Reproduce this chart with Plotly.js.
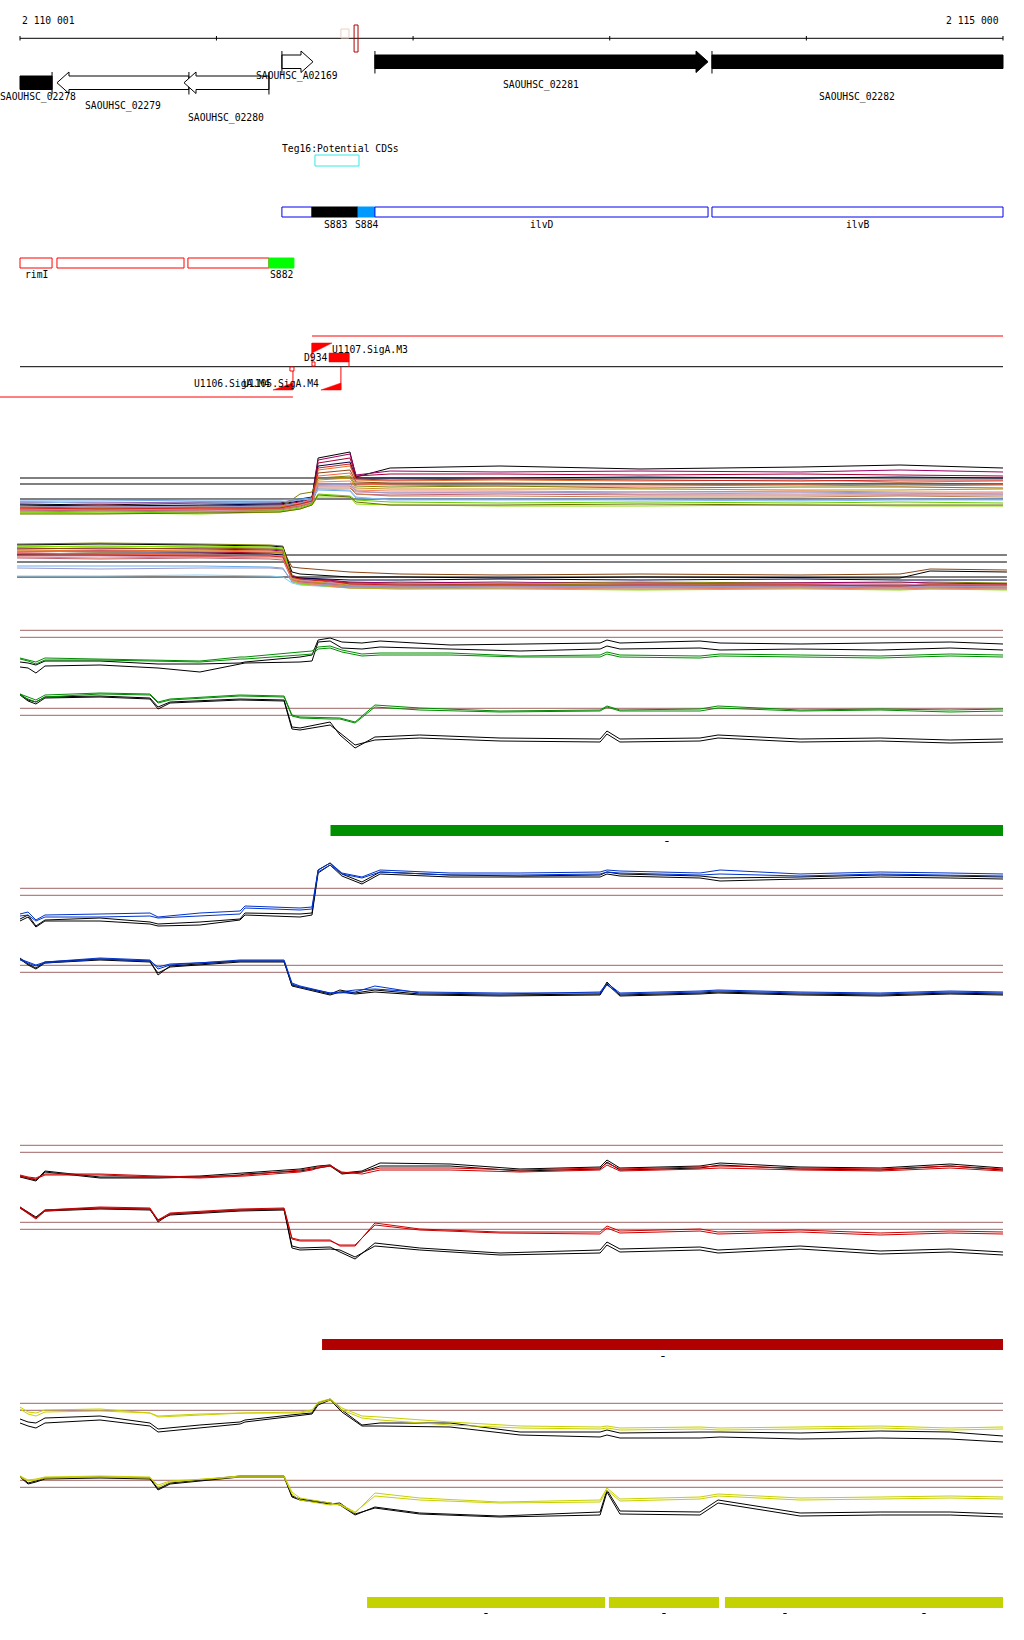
<!DOCTYPE html>
<html><head><meta charset="utf-8">
<script src="https://cdn.plot.ly/plotly-3.0.1.min.js"></script>
<style>html,body{margin:0;padding:0;background:#fff}#chart{width:1024px;height:1640px}</style>
</head><body><div id="chart"></div>
<script>
// ---------------- DATA ----------------
const rulerTicks = [2110001,2111000,2112000,2113000,2114000,2115000];
const rulerLabels = ['2 110 001','2 115 000'];

const geneNames = ['SAOUHSC_02278','SAOUHSC_02279','SAOUHSC_02280','SAOUHSC_A02169','SAOUHSC_02281','SAOUHSC_02282'];
const geneStart = [2110001,2110189,2110835,2111333,2111806,2113520];
const geneEnd   = [2110164,2110860,2111267,2111491,2113500,2115000];
const geneStrand = ['-','-','-','+','+','+'];
const geneFilled = [true,false,false,false,true,true];

const topMarkStart = [2111633,2111700];
const topMarkEnd   = [2111674,2111720];

const tegLabel = 'Teg16:Potential CDSs';
const tegStart = 2111501, tegEnd = 2111725;

const cdsNames = ['','S883','S884','ilvD','ilvB'];
const cdsStart = [2111333,2111486,2111720,2111806,2113520];
const cdsEnd   = [2111486,2111720,2111806,2113500,2115000];
const cdsFill  = ['#ffffff','#000000','#0099ff','#ffffff','#ffffff'];

const rnaNames = ['rimI','','','S882'];
const rnaStart = [2110001,2110189,2110855,2111267];
const rnaEnd   = [2110164,2110835,2111267,2111394];
const rnaFill  = ['#ffffff','#ffffff','#ffffff','#00ff00'];

// promoters / terminators
const plusLineStart = 2111486, plusLineEnd = 2115000;
const minusLineStart = 2109899, minusLineEnd = 2111389;
const promoPlusPos = [2111486];
const promoMinusPos = [2111389,2111633];
const siteLabels = ['U1107.SigA.M3','D934','U1106.SigA.M4','U1105.SigA.M4'];
const siteLabelPos = [2111783,2111506,2111079,2111326];

// multi-sample tracks
const trackAPos = [2110001,2110408,2110916,2111323,2111425,2111486,2111517,2111679,2111710,2111883,2112442,2113154,2113968,2114476,2115000];
const trackAColors = ['#000000','#990066','#aa0033','#000044','#e8702a','#8b4513','#ff6040','#808000','#c89010','#f08060','#d090b0','#c06070','#c08050','#66aaee','#88bbee','#66cc00','#88dd00','#6b6b00','#9999cc','#cc2222'];
const trackAValues = [
 [16,15,17,17,21,23,62,68,43,52,54,51,53,55,52],
 [18,17,18,18,20,22,60,66,45,49,48,49,48,50,48],
 [14,15,14,15,18,21,57,62,44,46,46,45,46,45,44],
 [15,14,15,16,19,22,54,58,42,42,42,43,42,43,42],
 [12,13,12,13,17,20,50,54,40,39,40,39,40,38,39],
 [13,12,13,14,16,20,47,50,38,37,37,36,36,37,36],
 [11,12,11,12,15,19,44,47,36,35,34,34,35,34,35],
 [10,11,10,12,26,28,42,44,34,33,34,32,33,33,32],
 [14,12,13,13,16,19,40,42,32,31,31,31,30,30,31],
 [11,10,11,11,15,18,38,39,30,29,29,28,29,28,28],
 [9,10,9,10,14,18,36,36,28,27,28,26,27,26,27],
 [10,9,10,11,14,17,34,34,26,25,26,25,25,25,25],
 [8,9,8,10,13,17,32,32,26,24,24,23,23,24,23],
 [19,19,20,20,21,22,30,29,22,21,21,21,20,21,21],
 [18,17,17,18,20,21,31,30,23,20,20,20,19,20,20],
 [8,7,8,9,12,16,26,24,20,18,17,18,17,18,17],
 [7,7,6,8,11,15,23,23,16,15,14,14,15,14,14],
 [6,6,7,8,11,15,25,23,18,15,15,16,15,15,15],
 [13,14,13,14,17,20,35,36,29,27,27,28,28,27,26],
 [12,11,12,12,16,19,52,56,41,40,41,40,39,40,40]
];
const trackARefs = [42,36,21];

const trackBPos = [2109986,2110408,2110916,2111272,2111338,2111384,2111425,2111578,2111679,2111933,2112442,2113154,2113968,2114476,2114629,2115020];
const trackBColors = ['#808000','#000000','#66cc00','#990066','#e8702a','#aa0033','#000044','#8b4513','#ff6040','#c89010','#d090b0','#c06070','#66aaee','#9999cc','#88ccee','#88dd00','#f08060','#cc2222'];
const trackBValues = [
 [56,57,56,55,54,25,22,20,17,18,17,18,17,17,18,17],
 [55,56,55,54,53,28,26,24,23,23,22,23,22,22,29,28],
 [53,54,53,52,51,22,20,17,16,15,16,15,16,15,16,15],
 [51,52,51,50,49,24,22,20,18,17,18,16,17,18,17,16],
 [50,49,50,49,48,21,19,16,14,14,15,14,13,14,14,13],
 [48,49,48,47,47,23,21,18,17,16,16,17,16,15,16,16],
 [46,47,47,46,45,23,22,21,20,20,21,20,21,20,20,20],
 [52,51,52,51,50,33,32,30,28,26,25,26,25,26,31,30],
 [47,46,45,44,44,20,18,15,13,12,13,12,13,12,12,12],
 [49,48,49,48,47,22,19,17,15,14,15,14,15,14,15,14],
 [44,44,43,45,44,21,20,18,16,16,17,16,16,15,16,15],
 [42,41,42,41,40,20,18,16,14,13,14,13,14,13,13,12],
 [34,34,34,33,32,18,16,14,13,12,12,13,12,12,12,12],
 [32,31,32,32,31,19,17,15,14,13,14,13,14,13,14,13],
 [24,24,25,24,23,17,15,13,12,11,12,11,12,11,11,11],
 [54,53,54,53,52,19,16,14,12,11,11,10,11,10,11,10],
 [43,42,43,42,42,20,17,14,12,12,12,11,12,11,12,11],
 [45,45,44,44,43,23,21,19,16,15,15,15,15,14,15,15]
];
const trackBRefs = [45,38,23];

// paired condition tracks (two replicates black + two replicates coloured)
const upperPos = [2110001,2110042,2110082,2110128,2110408,2110662,2110703,2110916,2111120,2111145,2111425,2111486,2111517,2111578,2111638,2111740,2111832,2112188,2112544,2112951,2112986,2113052,2113459,2113561,2113968,2114375,2114731,2115000];
const lowerPos = [2110001,2110042,2110082,2110128,2110408,2110662,2110703,2110764,2111120,2111344,2111384,2111425,2111578,2111628,2111705,2111806,2112034,2112442,2112951,2112986,2113052,2113459,2113551,2113968,2114375,2114731,2115000];

const greenUpK1 = [98,97,95,99,99,97,96,96,97,98,103,105,120,122,118,117,119,115,116,117,120,117,119,117,116,117,118,116];
const greenUpK2 = [93,92,87,94,95,93,92,88,96,97,98,99,118,119,112,111,113,111,109,111,114,111,112,110,111,110,112,110];
const greenUpC1 = [102,100,98,102,101,100,100,99,103,103,108,109,113,114,110,106,107,107,104,105,108,105,104,106,105,104,106,105];
const greenUpC2 = [101,99,96,100,100,99,99,98,101,101,105,106,111,112,108,104,105,105,103,103,106,103,102,104,103,102,104,103];
const greenLoK1 = [66,60,58,63,64,62,53,58,61,60,33,32,38,25,12,23,25,22,21,29,21,22,25,21,22,20,21];
const greenLoK2 = [65,59,56,62,63,61,51,57,60,59,31,30,35,27,15,20,22,19,18,26,18,19,22,18,19,17,18];
const greenLoC1 = [66,63,60,65,67,66,58,61,65,64,45,43,42,42,38,55,52,49,50,54,50,51,54,50,51,50,51];
const greenLoC2 = [65,61,58,63,66,65,57,60,64,63,44,42,41,41,37,53,50,48,49,53,49,49,52,49,50,48,49];
const greenRefs = [129.7,122.7,51.7,44.7];

const blueUpK1 = [91,95,84,90,92,88,86,88,91,97,96,97,140,147,136,128,138,135,134,135,138,136,134,132,133,135,134,133];
const blueUpK2 = [89,93,83,89,89,86,84,85,90,95,93,95,137,145,134,126,136,133,133,133,136,134,132,129,131,133,132,131];
const blueUpC1 = [96,98,90,95,96,97,93,97,99,104,102,103,140,147,137,133,140,137,137,138,140,139,137,140,136,138,137,136];
const blueUpC2 = [94,95,89,93,93,94,92,94,96,102,100,101,138,145,136,132,138,135,135,136,138,137,135,136,134,136,135,134];
const blueLoK1 = [52,46,42,48,51,49,35,44,49,49,25,23,16,20,17,20,16,15,16,28,15,17,18,16,15,17,16];
const blueLoK2 = [51,45,41,47,50,48,37,43,48,48,24,22,15,18,16,18,15,14,15,26,14,16,17,15,14,16,15];
const blueLoC1 = [51,48,45,48,52,50,41,45,50,50,27,24,17,17,18,24,17,16,18,27,17,19,20,18,17,19,18];
const blueLoC2 = [50,47,44,47,51,49,43,46,49,49,26,23,17,18,20,21,18,17,17,25,16,18,19,17,16,18,17];
const blueRefs = [121.7,114.7,44.7,37.7];

const redUpK1 = [94,92,90,99,93,93,93,94,97,97,101,103,104,105,97,99,107,106,101,103,110,102,104,107,103,102,106,102];
const redUpK2 = [93,91,89,98,92,92,92,93,95,96,99,101,102,104,96,98,104,104,99,101,108,100,102,105,101,100,104,100];
const redUpC1 = [95,93,92,96,96,94,94,93,95,95,100,102,103,105,97,98,102,102,100,102,107,101,103,104,102,101,104,101];
const redUpC2 = [94,92,91,95,95,93,93,92,94,94,98,100,102,104,98,96,100,100,98,100,105,99,101,102,100,99,102,99];
const redLoK1 = [63,58,53,60,62,61,48,56,60,61,24,22,23,18,11,27,22,17,20,28,21,23,20,24,19,21,18];
const redLoK2 = [62,57,52,59,61,60,50,55,59,60,22,20,21,20,13,24,20,15,17,25,18,20,17,21,16,18,15];
const redLoC1 = [63,57,52,60,63,62,50,57,61,62,32,30,30,24,24,47,41,38,38,44,39,41,38,40,37,39,38];
const redLoC2 = [62,56,51,59,62,61,49,56,60,61,31,29,29,25,25,45,40,37,36,42,37,39,36,38,35,37,36];
const redRefs = [124.7,117.7,47.7,40.7];

const yelUpK1 = [111,108,107,112,114,107,101,105,108,110,116,117,127,131,120,105,107,107,98,98,100,97,98,98,97,99,98,94];
const yelUpK2 = [107,104,102,107,110,104,98,102,106,108,114,116,125,130,118,104,104,103,95,93,95,92,92,93,91,92,91,88];
const yelUpC1 = [123,118,117,120,121,117,114,116,117,117,117,119,128,131,122,114,113,108,104,103,104,102,103,102,103,104,102,103];
const yelUpC2 = [121,116,114,118,119,117,113,115,117,117,118,120,127,130,120,112,110,105,102,101,102,100,101,100,101,102,100,101];
const yelLoK1 = [54,47,49,52,53,52,41,47,54,54,34,31,27,25,15,23,17,14,18,40,19,18,30,17,18,18,16];
const yelLoK2 = [53,46,48,51,52,51,40,46,53,53,33,30,26,27,16,22,16,13,15,38,16,15,27,14,15,15,13];
const yelLoC1 = [54,50,51,53,54,53,43,48,54,54,38,32,27,25,17,37,32,28,30,42,31,33,36,32,33,34,33];
const yelLoC2 = [53,49,50,52,53,52,45,49,53,53,36,30,25,26,18,34,30,27,28,40,29,31,34,30,31,32,31];
const yelRefs = [126.7,119.7,49.7,42.7];

// segments (bars) per condition
const greenSegStart = [2111580], greenSegEnd = [2115000];
const redSegStart = [2111537], redSegEnd = [2115000];
const yelSegStart = [2111766,2112996,2113586,2114198], yelSegEnd = [2112976,2113556,2114198,2115000];
const segLabel = '-';

// ---------------- LAYOUT HELPERS ----------------
const H = 1640;
const BPPX = 4999/983;
const X0 = 2110001 - 20*BPPX, X1 = 2110001 + 1004*BPPX;
const MONO = 'DejaVu Sans Mono';
const FS = 9.7;
function py(r){return 1 - r/H;}
function dom(t,b){return [1-b/H, 1-t/H];}

const shapes = [];
const annotations = [];
const traces = [];

function hline(x0,x1,row,color,w){shapes.push({type:'line',xref:'x',yref:'paper',x0,x1,y0:py(row),y1:py(row),line:{color,width:w||1}});}
function vline(x,r0,r1,color,w){shapes.push({type:'line',xref:'x',yref:'paper',x0:x,x1:x,y0:py(r0),y1:py(r1),line:{color,width:w||1}});}
function rect(x0,x1,r0,r1,fill,lc,lw){shapes.push({type:'rect',xref:'x',yref:'paper',x0,x1,y0:py(r1),y1:py(r0),fillcolor:fill,line:{color:lc||fill,width:lw===undefined?1:lw}});}
function path(p,fill,lc,lw){shapes.push({type:'path',xref:'x',yref:'paper',path:p,fillcolor:fill,line:{color:lc||fill,width:lw===undefined?1:lw}});}
function label(text,x,row,xa,size){annotations.push({text,x,y:py(row),xref:'x',yref:'paper',showarrow:false,xanchor:xa||'center',yanchor:'middle',font:{family:MONO,size:size||FS,color:'#000'}});}
function ys(r){return py(r);}

// ruler
hline(rulerTicks[0],rulerTicks[rulerTicks.length-1],38.3,'#000',1);
rulerTicks.forEach(t=>vline(t,36,40.5,'#000',1));
label(rulerLabels[0],rulerTicks[0],20,'left');
label(rulerLabels[1],2114992,20,'right');
rect(topMarkStart[0],topMarkEnd[0],29,38,'rgba(0,0,0,0)','#eccfc0',1);
rect(topMarkStart[1],topMarkEnd[1],25,52,'rgba(0,0,0,0)','#b00000',1);

// genes
const HEAD = 12*BPPX;
const geneLabelRows = [97,106,118,76,85,97];
const geneLabelShift = [2*BPPX,0,0,0,0,0];
geneNames.forEach((n,i)=>{
  const s=geneStart[i], e=geneEnd[i], plus=geneStrand[i]==='+';
  const bt=plus?55:76, bb=plus?68.5:89.5, ht=plus?51:72, hb=plus?72.5:93.5;
  const yt=ys(bt), yb=ys(bb), yht=ys(ht), yhb=ys(hb), ym=(yht+yhb)/2;
  const hasHead = plus ? e<rulerTicks[5] : s>rulerTicks[0];
  let p;
  if(!hasHead) p=`M${s},${yt}L${e},${yt}L${e},${yb}L${s},${yb}Z`;
  else if(plus){const k=e-HEAD; p=`M${s},${yt}L${k},${yt}L${k},${yht}L${e},${ym}L${k},${yhb}L${k},${yb}L${s},${yb}Z`;}
  else {const k=s+HEAD; p=`M${e},${yt}L${k},${yt}L${k},${yht}L${s},${ym}L${k},${yhb}L${k},${yb}L${e},${yb}Z`;}
  path(p, geneFilled[i]?'#000':'#fff','#000',1);
  vline(plus?s:e, ht, hb+1,'#000',1);
  label(n,(s+e)/2+geneLabelShift[i],geneLabelRows[i]);
});

// Teg16
label(tegLabel,(tegStart+tegEnd)/2+20,149);
rect(tegStart,tegEnd,155,166,'rgba(0,0,0,0)','#33e8e8',1);

// CDS track
cdsNames.forEach((n,i)=>{
  rect(cdsStart[i],cdsEnd[i],207,217,cdsFill[i],cdsFill[i]==='#ffffff'?'#0000ee':cdsFill[i],1);
  if(n) label(n,(cdsStart[i]+cdsEnd[i])/2,224);
});

// RNA track
rnaNames.forEach((n,i)=>{
  const f=rnaFill[i];
  rect(rnaStart[i],rnaEnd[i],258,268,f,f==='#ffffff'?'#ff0000':f,1);
  if(n) label(n,(rnaStart[i]+rnaEnd[i])/2,274);
});

// promoter / terminator track
hline(plusLineStart,plusLineEnd,336,'#ff0000',1);
hline(rulerTicks[0],rulerTicks[5],366.7,'#000',1);
hline(minusLineStart,minusLineEnd,397,'#ff0000',1);
{const x=promoPlusPos[0];
 vline(x,343,362,'#ff0000',1);
 path(`M${x},${ys(343)}L${x+20*BPPX},${ys(343)}L${x},${ys(353)}Z`,'#ff0000','#ff0000',0.5);
 rect(x,x+3*BPPX,362,366,'#fff','#ff0000',1);
 const r0=x+17*BPPX, r1=x+37*BPPX;
 rect(r0,r1,353,362,'#ff0000','#ff0000',0.5);
 vline(r1,353,367,'#ff0000',1);}
promoMinusPos.forEach((x,i)=>{
  vline(x,i===0?371:367,390,'#ff0000',1);
  path(`M${x},${ys(390)}L${x-20*BPPX},${ys(390)}L${x},${ys(383)}Z`,'#ff0000','#ff0000',0.5);
  if(i===0) rect(x-3*BPPX,x+1*BPPX,367,371,'#fff','#ff0000',1);
});
const siteRows=[350,358,383,383];
siteLabels.forEach((t,i)=>label(t,siteLabelPos[i],siteRows[i]));

// axes
const layout = {
  width:1024,height:1640,margin:{l:0,r:0,t:0,b:0},
  paper_bgcolor:'#fff',plot_bgcolor:'rgba(0,0,0,0)',showlegend:false,
  xaxis:{range:[X0,X1],visible:false,fixedrange:true},
  yaxis:{domain:dom(440,520),range:[0,80],visible:false,anchor:'x'},
  yaxis2:{domain:dom(530,600),range:[0,70],visible:false,anchor:'x'},
  yaxis3:{domain:dom(620,760),range:[0,140],visible:false,anchor:'x'},
  yaxis4:{domain:dom(850,1010),range:[0,160],visible:false,anchor:'x'},
  yaxis5:{domain:dom(1140,1270),range:[0,130],visible:false,anchor:'x'},
  yaxis6:{domain:dom(1390,1530),range:[0,140],visible:false,anchor:'x'},
  shapes, annotations
};

function line(x,y,color,axis){traces.push({type:'scatter',mode:'lines',x,y,xaxis:'x',yaxis:axis,line:{color,width:1},hoverinfo:'skip',cliponaxis:false});}
function refLine(x0,x1,v,axis,color){shapes.push({type:'line',xref:'x',yref:axis,x0,x1,y0:v,y1:v,line:{color,width:1},layer:'below'});}

trackARefs.forEach(v=>refLine(trackAPos[0],trackAPos[trackAPos.length-1],v,'y','#000'));
trackAValues.forEach((v,i)=>line(trackAPos,v,trackAColors[i],'y'));
trackBRefs.forEach(v=>refLine(trackBPos[0],trackBPos[trackBPos.length-1],v,'y2','#000'));
trackBValues.forEach((v,i)=>line(trackBPos,v,trackBColors[i],'y2'));

const BROWN='#a06464';
function paired(axis,refs,col,uk1,uk2,uc1,uc2,lk1,lk2,lc1,lc2){
  refs.forEach(v=>refLine(rulerTicks[0],rulerTicks[5],v,axis,BROWN));
  line(upperPos,uk1,'#000',axis); line(upperPos,uk2,'#000',axis);
  line(upperPos,uc1,col,axis); line(upperPos,uc2,col,axis);
  line(lowerPos,lk1,'#000',axis); line(lowerPos,lk2,'#000',axis);
  line(lowerPos,lc1,col,axis); line(lowerPos,lc2,col,axis);
}
paired('y3',greenRefs,'#008c00',greenUpK1,greenUpK2,greenUpC1,greenUpC2,greenLoK1,greenLoK2,greenLoC1,greenLoC2);
paired('y4',blueRefs,'#0033cc',blueUpK1,blueUpK2,blueUpC1,blueUpC2,blueLoK1,blueLoK2,blueLoC1,blueLoC2);
paired('y5',redRefs,'#cc0000',redUpK1,redUpK2,redUpC1,redUpC2,redLoK1,redLoK2,redLoC1,redLoC2);
paired('y6',yelRefs,'#c8d000',yelUpK1,yelUpK2,yelUpC1,yelUpC2,yelLoK1,yelLoK2,yelLoC1,yelLoC2);

// segment bars (adjacent segments drawn slightly overlapping so no seam shows)
function segs(st,en,r0,r1,color,lrow){
  st.forEach((s,i)=>{
    const touch = i<st.length-1 && st[i+1]-en[i] < 2;
    rect(s,en[i]+(touch?2*BPPX:0),r0,r1,color,color,0);
    label(segLabel,(s+en[i])/2,lrow,'center',13);
  });
}
segs(greenSegStart,greenSegEnd,825,836,'#008f00',840);
segs(redSegStart,redSegEnd,1339,1350,'#b00000',1355);
segs(yelSegStart,yelSegEnd,1597,1608,'#c4d204',1612);

Plotly.newPlot('chart',traces,layout,{staticPlot:true,displayModeBar:false});
</script></body></html>
